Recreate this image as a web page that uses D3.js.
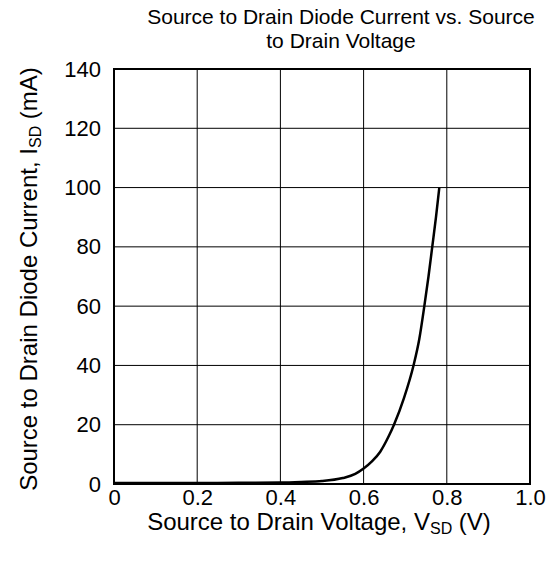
<!DOCTYPE html>
<html>
<head>
<meta charset="utf-8">
<script src="https://cdn.jsdelivr.net/npm/d3@7"></script>
<style>
  body { margin: 0; background: #fff; }
  svg text { font-family: "Liberation Sans", Arial, sans-serif; fill: #000; }
</style>
</head>
<body>
<svg id="chart"></svg>
<script>
const width = 556;
const height = 561;

// values
const voltage = [0, 0.1, 0.2, 0.3, 0.4, 0.45, 0.5, 0.55, 0.58, 0.6, 0.62, 0.64, 0.66, 0.673, 0.697, 0.72, 0.734, 0.746, 0.756, 0.765, 0.774, 0.782];
const current = [0.3, 0.3, 0.35, 0.4, 0.5, 0.7, 1.0, 2.0, 3.4, 5.2, 7.6, 10.9, 16, 20, 29, 40, 49, 60, 70, 80, 90, 100];
const xTicks = [0, 0.2, 0.4, 0.6, 0.8, 1.0];
const yTicks = [0, 20, 40, 60, 80, 100, 120, 140];
const titleLines = ["Source to Drain Diode Current vs. Source", "to Drain Voltage"];

const margin = { top: 69, right: 26, bottom: 77, left: 114 };

const svg = d3.select("#chart")
  .attr("width", width)
  .attr("height", height);

const x = d3.scaleLinear()
  .domain([0, 1])
  .range([margin.left, width - margin.right]);

const y = d3.scaleLinear()
  .domain([0, 140])
  .range([height - margin.bottom, margin.top]);

// grid
svg.append("g")
  .selectAll("line")
  .data(xTicks.slice(1, -1))
  .join("line")
  .attr("x1", d => x(d)).attr("x2", d => x(d))
  .attr("y1", y(0)).attr("y2", y(140))
  .attr("stroke", "#000")
  .attr("stroke-width", 1);

svg.append("g")
  .selectAll("line")
  .data(yTicks.slice(1, -1))
  .join("line")
  .attr("x1", x(0)).attr("x2", x(1))
  .attr("y1", d => y(d)).attr("y2", d => y(d))
  .attr("stroke", "#000")
  .attr("stroke-width", 1);

// frame
svg.append("rect")
  .attr("x", x(0)).attr("y", y(140))
  .attr("width", x(1) - x(0))
  .attr("height", y(0) - y(140))
  .attr("fill", "none")
  .attr("stroke", "#000")
  .attr("stroke-width", 2);

// axes (labels only)
const xAxis = svg.append("g")
  .attr("transform", `translate(0,${y(0)})`)
  .call(d3.axisBottom(x).tickValues(xTicks).tickSize(0).tickPadding(5)
    .tickFormat(d => d === 0 ? "0" : d3.format(".1f")(d)));
xAxis.select(".domain").remove();
xAxis.selectAll("text").attr("font-size", 22).attr("dy", "0.71em");

const yAxis = svg.append("g")
  .attr("transform", `translate(${x(0)},0)`)
  .call(d3.axisLeft(y).tickValues(yTicks).tickSize(0).tickPadding(13));
yAxis.select(".domain").remove();
yAxis.selectAll("text").attr("font-size", 22);

// curve
const data = voltage.map((v, i) => ({ v, i: current[i] }));
svg.append("path")
  .datum(data)
  .attr("fill", "none")
  .attr("stroke", "#000")
  .attr("stroke-width", 2.5)
  .attr("d", d3.line().x(d => x(d.v)).y(d => y(d.i)).curve(d3.curveMonotoneX));

// title
svg.append("text")
  .attr("text-anchor", "middle")
  .attr("font-size", 21)
  .selectAll("tspan")
  .data(titleLines)
  .join("tspan")
  .attr("x", 341)
  .attr("y", (d, i) => 24 + i * 24)
  .text(d => d);

// x label
const xl = svg.append("text")
  .attr("x", 319)
  .attr("y", 530)
  .attr("text-anchor", "middle")
  .attr("font-size", 24);
xl.append("tspan").text("Source to Drain Voltage, V");
xl.append("tspan").attr("font-size", 16).attr("dy", 4).text("SD");
xl.append("tspan").attr("dy", -4).text(" (V)");

// y label
const yl = svg.append("text")
  .attr("transform", `translate(37,279) rotate(-90)`)
  .attr("text-anchor", "middle")
  .attr("font-size", 24);
yl.append("tspan").text("Source to Drain Diode Current, I");
yl.append("tspan").attr("font-size", 16).attr("dy", 4).text("SD");
yl.append("tspan").attr("dy", -4).text(" (mA)");
</script>
</body>
</html>
